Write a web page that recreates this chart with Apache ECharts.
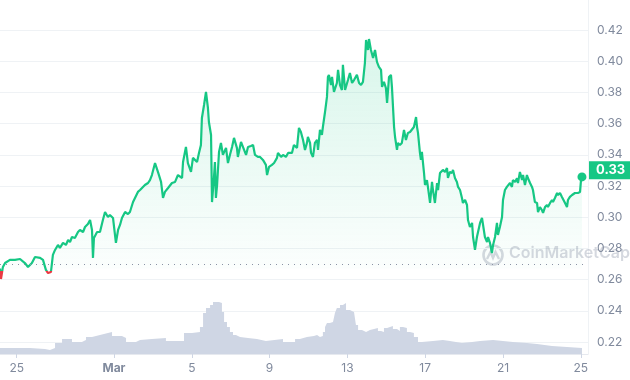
<!DOCTYPE html>
<html><head><meta charset="utf-8">
<script src="https://cdn.jsdelivr.net/npm/echarts@6/dist/echarts.min.js"></script>
<style>html,body{margin:0;padding:0;background:#fff}#c{width:630px;height:380px}</style>
</head><body><div id="c"></div>
<script>
// days relative to 1 Mar (0 = Mar 1)
const priceDays = [
-5.86,-5.81,-5.71,-5.60,-5.35,-5.09,-4.83,-4.73,-4.58,-4.42,
-4.22,-4.06,-3.80,-3.65,-3.50,-3.39,-3.24,-3.14,-3.03,-2.88,
-2.78,-2.62,-2.47,-2.36,-2.26,-2.16,-2.01,-1.85,-1.75,-1.59,
-1.49,-1.34,-1.23,-1.13,-1.08,-1.03,-0.87,-0.72,-0.57,-0.46,
-0.31,-0.21,-0.05,0.10,0.21,0.31,0.41,0.57,0.72,0.82,
0.98,1.08,1.23,1.34,1.44,1.59,1.75,1.85,1.95,2.11,
2.26,2.42,2.52,2.62,2.78,2.98,3.14,3.29,3.50,3.55,
3.70,3.80,3.96,4.06,4.27,4.37,4.47,4.52,4.63,4.73,
4.83,4.88,4.99,5.04,5.14,5.19,5.24,5.30,5.40,5.50,
5.60,5.76,5.86,5.96,6.07,6.17,6.32,6.37,6.53,6.63,
6.79,6.89,7.04,7.15,7.25,7.40,7.51,7.66,7.81,7.87,
7.97,8.12,8.23,8.38,8.43,8.59,8.69,8.84,8.95,9.15,
9.25,9.41,9.51,9.61,9.72,9.82,9.92,9.97,10.08,10.13,
10.23,10.33,10.44,10.49,10.59,10.69,10.74,10.85,10.95,11.00,
11.05,11.16,11.21,11.31,11.46,11.52,11.62,11.72,11.77,11.88,
12.03,12.13,12.24,12.34,12.49,12.60,12.70,12.80,12.90,12.96,
13.06,13.11,13.21,13.32,13.42,13.52,13.62,13.73,13.78,13.88,
13.98,14.04,14.14,14.24,14.29,14.40,14.45,14.55,14.60,14.70,
14.80,14.91,15.01,15.11,15.22,15.32,15.42,15.53,15.58,15.63,
15.73,15.78,15.83,15.94,15.99,16.09,16.14,16.25,16.35,16.40,
16.50,16.61,16.66,16.76,16.86,16.91,17.02,17.12,17.17,17.27,
17.38,17.43,17.53,17.63,17.69,17.79,17.89,17.94,18.05,18.15,
18.20,18.30,18.41,18.46,18.56,18.66,18.71,18.82,18.92,18.97,
19.07,19.18,19.23,19.33,19.43,19.49,19.59,19.69,19.74,19.84,
19.95,20.00,20.10,20.20,20.26,20.36,20.46,20.51,20.62,20.72,
20.77,20.87,20.98,21.03,21.13,21.23,21.28,21.39,21.49,21.54,
21.64,21.75,21.80,21.90,22.00,22.06,22.16,22.26,22.31,22.42,
22.52,22.57,22.67,22.78,22.83,22.93,23.03,23.08,23.19,23.29,
23.34,23.44,23.55,23.60,23.70,23.80,23.85,23.96,24.01,24.06
];
const prices = [
0.2671,0.2604,0.2681,0.2706,0.2726,0.2726,0.2732,0.2726,0.2706,0.2681,
0.2706,0.2745,0.2739,0.2726,0.2662,0.2642,0.2649,0.2758,0.2790,0.2822,
0.2803,0.2835,0.2822,0.2854,0.2841,0.2873,0.2867,0.2905,0.2918,0.2905,
0.2937,0.2956,0.2982,0.2918,0.2739,0.2867,0.2905,0.2905,0.2982,0.3033,
0.3001,0.3014,0.2995,0.2835,0.2918,0.2950,0.2995,0.3033,0.3020,0.3033,
0.3097,0.3123,0.3162,0.3174,0.3187,0.3206,0.3219,0.3238,0.3270,0.3347,
0.3290,0.3226,0.3123,0.3162,0.3187,0.3219,0.3226,0.3270,0.3251,0.3354,
0.3450,0.3347,0.3290,0.3380,0.3354,0.3412,0.3463,0.3636,0.3719,0.3803,
0.3700,0.3610,0.3527,0.3097,0.3254,0.3354,0.3123,0.3206,0.3418,0.3476,
0.3399,0.3444,0.3347,0.3399,0.3450,0.3508,0.3444,0.3386,0.3482,0.3450,
0.3399,0.3450,0.3456,0.3463,0.3399,0.3386,0.3386,0.3367,0.3335,0.3270,
0.3322,0.3335,0.3347,0.3380,0.3412,0.3386,0.3399,0.3386,0.3412,0.3412,
0.3463,0.3444,0.3572,0.3546,0.3495,0.3431,0.3476,0.3514,0.3476,0.3412,
0.3386,0.3476,0.3495,0.3431,0.3559,0.3527,0.3578,0.3674,0.3771,0.3899,
0.3912,0.3847,0.3899,0.3803,0.3860,0.3944,0.3847,0.3815,0.3976,0.3815,
0.3879,0.3924,0.3860,0.3879,0.3912,0.3860,0.3847,0.3867,0.3988,0.4136,
0.4072,0.4142,0.4072,0.4021,0.4072,0.3995,0.3963,0.3944,0.3835,0.3867,
0.3828,0.3732,0.3899,0.3912,0.3835,0.3578,0.3514,0.3431,0.3476,0.3463,
0.3476,0.3559,0.3495,0.3540,0.3546,0.3540,0.3578,0.3642,0.3578,0.3540,
0.3412,0.3367,0.3418,0.3283,0.3206,0.3238,0.3194,0.3091,0.3226,0.3174,
0.3091,0.3219,0.3174,0.3283,0.3290,0.3303,0.3290,0.3315,0.3251,0.3290,
0.3283,0.3303,0.3251,0.3226,0.3194,0.3174,0.3123,0.3091,0.3110,0.3078,
0.2982,0.2937,0.2963,0.2873,0.2790,0.2873,0.2873,0.2963,0.2995,0.3001,
0.2873,0.2841,0.2873,0.2835,0.2770,0.2822,0.2873,0.2963,0.2886,0.2937,
0.3001,0.3110,0.3174,0.3194,0.3187,0.3219,0.3194,0.3238,0.3226,0.3250,
0.3219,0.3290,0.3238,0.3270,0.3206,0.3270,0.3251,0.3219,0.3194,0.3174,
0.3097,0.3091,0.3033,0.3065,0.3046,0.3027,0.3065,0.3078,0.3065,0.3091,
0.3110,0.3097,0.3123,0.3155,0.3142,0.3155,0.3130,0.3142,0.3091,0.3065,
0.3110,0.3130,0.3142,0.3130,0.3155,0.3155,0.3155,0.3162,0.3238,0.3258
];
const volumeDays = [
-5.86,-4.32,-3.55,-3.29,-3.03,-2.67,-2.16,-1.65,-1.44,-1.13,
-0.72,-0.31,-0.10,0.41,0.62,1.13,1.34,1.95,2.67,3.60,
4.01,4.42,4.58,4.73,4.94,5.09,5.24,5.40,5.55,5.66,
5.81,5.96,6.12,6.27,6.48,6.89,7.35,7.81,8.69,9.31,
9.56,9.92,10.28,10.44,10.59,10.74,10.85,10.95,11.10,11.26,
11.36,11.46,11.62,11.77,11.93,12.13,12.34,12.44,12.55,12.75,
12.96,13.16,13.37,13.57,13.73,13.88,14.04,14.19,14.34,14.55,
14.70,14.86,15.06,15.22,15.42,15.63,15.83,16.40,16.91,17.27,
17.89,18.41,18.82,19.49,20.51,21.23,21.75,22.52,23.29,24.06
];
const volumes = [
6,5,4,6,11,15,12,14,17,19,
21,22,18,16,12,14,15,16,13,21,
22,27,41,46,49,52,52,51,42,32,
27,22,19,17,16,15,13,15,12,15,
17,18,19,17,18,22,27,31,32,34,
41,46,49,51,44,42,41,29,24,22,
24,25,26,23,22,26,27,28,25,23,
27,26,22,21,17,12,13,14,13,11,
12,13,14,12,11,10,8,7,6,6
];
const xTickDays = [-5,0,4,8,12,16,20,24];
const xTickLabels = ['25','Mar','5','9','13','17','21','25'];
const yTickValues = [0.22,0.24,0.26,0.28,0.30,0.32,0.34,0.36,0.38,0.40,0.42];

const baseline = prices[0];
const lastPrice = prices[prices.length - 1];
const lastDay = priceDays[priceDays.length - 1];
const green = '#16c784', red = '#ea3943';
const priceData = priceDays.map((d, i) => [d, prices[i]]);
const volumeData = volumeDays.map((d, i) => [d, volumes[i]]);
const pMax = Math.max.apply(null, prices), pMin = Math.min.apply(null, prices);
const split = (pMax - baseline) / (pMax - pMin);

const chart = echarts.init(document.getElementById('c'));
chart.setOption({
  animation: false,
  textStyle: { fontFamily: 'Inter, "Noto Sans", sans-serif' },
  grid: { left: 0, right: 42, top: 0, bottom: 26 },
  xAxis: {
    type: 'value', min: -5.86, max: 24.37,
    axisLine: { show: true, onZero: false, lineStyle: { color: '#e6e9ef', width: 1 } },
    axisTick: { show: true, customValues: xTickDays, length: 4, lineStyle: { color: '#cfd6e4' } },
    axisLabel: {
      customValues: xTickDays, margin: 8, color: '#808a9d', fontSize: 12,
      formatter: function (v) {
        let idx = xTickDays.findIndex(t => Math.abs(t - v) < 1e-6);
        let s = idx >= 0 ? xTickLabels[idx] : '';
        return s === 'Mar' ? '{b|Mar}' : s;
      },
      rich: { b: { fontWeight: 'bold', color: '#808a9d', fontSize: 12 } }
    },
    splitLine: { show: false }
  },
  yAxis: [{
    type: 'value', position: 'right', min: 0.2123, max: 0.4392,
    axisLine: { show: true, onZero: false, lineStyle: { color: '#eff2f5' } },
    axisTick: { show: false, customValues: yTickValues },
    axisLabel: { customValues: yTickValues, formatter: v => v.toFixed(2), margin: 9, color: '#808a9d', fontSize: 12 },
    splitLine: { show: true, lineStyle: { color: '#eff2f5', width: 1 } }
  }, {
    type: 'value', min: 0, max: 354, show: false,
    axisLine: { show: false, onZero: false }, splitLine: { show: false }
  }],
  series: [{
    type: 'line', name: 'Volume', yAxisIndex: 1, data: volumeData, step: 'end',
    showSymbol: false, silent: true, z: 1,
    lineStyle: { width: 0 },
    areaStyle: { color: '#cfd6e4', opacity: 1 }
  }, {
    type: 'line', name: 'Price', yAxisIndex: 0, data: priceData, showSymbol: false, z: 3,
    lineStyle: {
      width: 2.2,
      color: new echarts.graphic.LinearGradient(0, 0, 0, 1, [
        { offset: 0, color: green }, { offset: split, color: green },
        { offset: split, color: red }, { offset: 1, color: red }
      ])
    },
    areaStyle: {
      origin: baseline,
      color: new echarts.graphic.LinearGradient(0, 0, 0, 1, [
        { offset: 0, color: 'rgba(22,199,132,0.24)' },
        { offset: 1, color: 'rgba(22,199,132,0.01)' }
      ])
    },
    markLine: {
      silent: true, symbol: 'none', animation: false,
      data: [
        { yAxis: baseline, lineStyle: { type: [1, 5], color: '#8a93a5', width: 1.2 }, label: { show: false } }
      ]
    },
    markPoint: {
      silent: true, symbol: 'circle', symbolSize: 9,
      itemStyle: { color: green },
      label: { show: false },
      data: [{ coord: [lastDay, lastPrice] }]
    }
  }, {
    type: 'line', name: 'Last', yAxisIndex: 0, data: [], silent: true,
    markLine: {
      silent: true, symbol: 'none', animation: false,
      data: [
        { yAxis: lastPrice, lineStyle: { color: 'rgba(0,0,0,0)', width: 0 },
          label: { show: true, position: 'end', distance: 1, formatter: lastPrice.toFixed(2),
            backgroundColor: green, color: '#ffffff', fontWeight: 'bold', fontSize: 13,
            padding: [3, 7, 3, 7], lineHeight: 12 } }
      ]
    }
  }],
  graphic: [{
    type: 'group', left: 481, top: 243, z: 100, silent: true,
    children: [
      { type: 'circle', shape: { cx: 11, cy: 11, r: 9.5 }, style: { fill: 'none', stroke: 'rgba(128,138,157,0.33)', lineWidth: 2.6 } },
      { type: 'polyline', shape: { points: [[5, 15], [8.5, 8], [11, 14], [13.5, 8], [17, 15]] }, style: { fill: 'none', stroke: 'rgba(128,138,157,0.33)', lineWidth: 2.4 } }
    ]
  }, {
    type: 'text', left: 509, top: 245, z: 100, silent: true,
    style: { text: 'CoinMarketCap', fill: 'rgba(128,138,157,0.33)', fontSize: 16, fontWeight: 600, fontFamily: 'Inter, sans-serif' }
  }]
});
</script>
</body></html>
